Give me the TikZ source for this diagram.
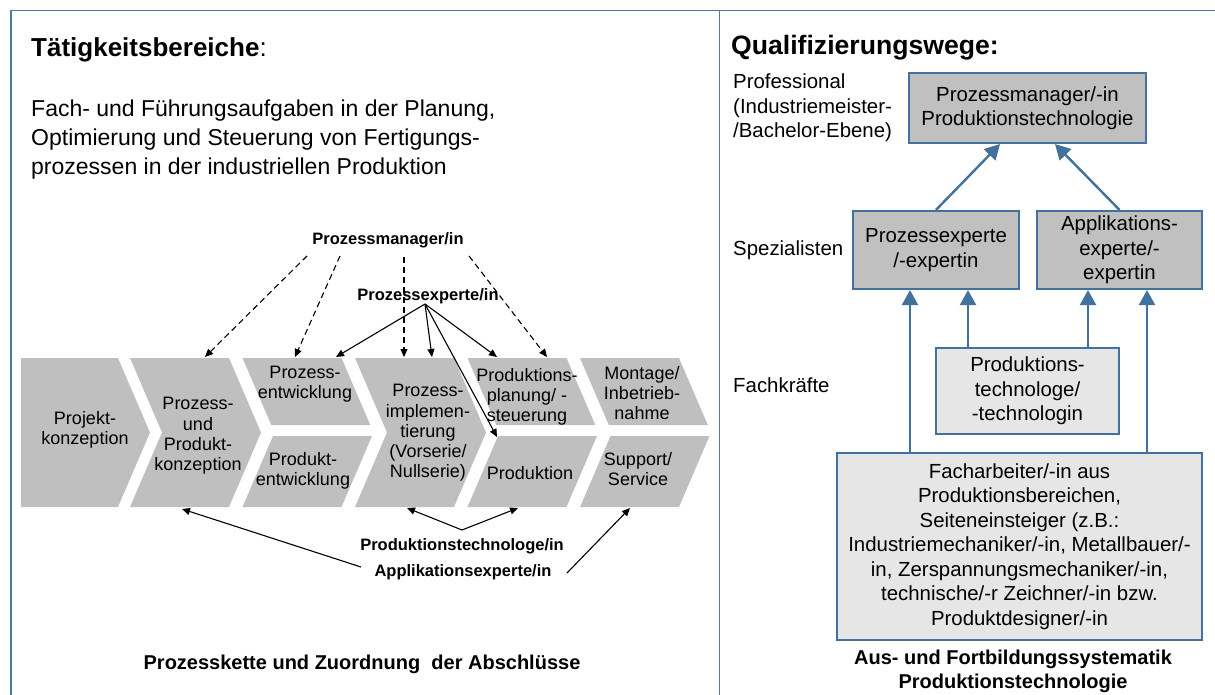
\documentclass[tikz,border=0pt]{standalone}
\usepackage{fontspec}
\setmainfont{Liberation Sans}
\usetikzlibrary{arrows.meta}
\definecolor{frameblue}{HTML}{4F7AA3}
\definecolor{boxblue}{HTML}{41719C}
\definecolor{chevgray}{HTML}{BFBFBF}
\definecolor{darkfill}{HTML}{C0C0C0}
\definecolor{lightfill}{HTML}{E6E6E6}
\newcommand{\fsz}[2]{\fontsize{#1}{#2}\selectfont}
\newcommand{\chevfull}[1]{\fill[chev] (#1,358) -- ({#1+99},358) -- ({#1+131},432.5) -- ({#1+99},507) -- (#1,507) -- ({#1+32},432.5) -- cycle;}
\newcommand{\chevsplit}[1]{\fill[chev] (#1,358) -- ({#1+99},358) -- ({#1+127.8},425) -- ({#1+28.8},425) -- cycle;
 \fill[chev] ({#1+30.5},436) -- ({#1+129.5},436) -- ({#1+99},507) -- (#1,507) -- cycle;}
\begin{document}
\begin{tikzpicture}[x=1pt,y=-1pt,
 chev/.style={fill=chevgray},
 chevtext/.style={align=center,font=\fsz{18}{20.3},inner sep=0},
 lbl/.style={font=\bfseries\fsz{16.5}{20},inner sep=0},
 darr/.style={draw=black,line width=1.1pt,dash pattern=on 6pt off 4pt,-{Triangle[length=8pt,width=7pt]}},
 sarr/.style={draw=black,line width=1.1pt,-{Triangle[length=8pt,width=7pt]}},
 qbox/.style={draw=boxblue,line width=2.2pt,fill=darkfill,align=center,font=\fsz{20.4}{24.5},inner sep=0},
 lbox/.style={qbox,fill=lightfill},
 barrow/.style={draw=boxblue,line width=2.4pt,-{Triangle[length=15pt,width=16pt]}},
 lvl/.style={anchor=west,font=\fsz{20.4}{24.5},inner sep=0,align=left}
]
\useasboundingbox (0,0) rectangle (1215,695);
% frame
\draw[frameblue,line width=1.6pt] (11,695) -- (11,10.5) -- (1215,10.5);
\draw[frameblue,line width=1.6pt] (719.5,10.5) -- (719.5,695);

% ---------- left panel ----------
\node[anchor=base west,font=\bfseries\fsz{26}{30},inner sep=0] (t1) at (31,57) {Tätigkeitsbereiche\textmd{:}};
\node[anchor=north west,align=left,font=\fsz{23}{29},inner sep=0] (body) at (31,100)
 {Fach- und Führungsaufgaben in der Planung,\\Optimierung und Steuerung von Fertigungs-\\prozessen in der industriellen Produktion};

% chevrons
\fill[chev] (21,358) -- (118,358) -- (150,432.5) -- (118,507) -- (21,507) -- cycle;
\chevfull{130}
\chevsplit{242.5}
\chevfull{355}
\chevsplit{467.5}
\chevsplit{580}

\node[chevtext] (c1) at (85,430) {Projekt-\\konzeption};
\node[chevtext] (c2) at (198,436) {Prozess-\\und\\Produkt-\\konzeption};
\node[chevtext] (c3a) at (305,384) {Prozess-\\entwicklung};
\node[chevtext] (c3b) at (303,471) {Produkt-\\entwicklung};
\node[chevtext] (c4) at (428,433) {Prozess-\\implemen-\\tierung\\(Vorserie/\\Nullserie)};
\node[chevtext] (c5a) at (527,397) {Produktions-\\planung/ -\\steuerung};
\node[chevtext] (c5b) at (530,473) {Produktion};
\node[chevtext] (c6a) at (642,393) {Montage/\\Inbetrieb-\\nahme};
\node[chevtext] (c6b) at (638,469) {Support/\\Service};

% labels
\node[lbl] (pmgr) at (388,240) {Prozessmanager/in};
\node[lbl] (pexp) at (428,296) {Prozessexperte/in};
\node[lbl] (ptech) at (462,546) {Produktionstechnologe/in};
\node[lbl] (aexp) at (463,572) {Applikationsexperte/in};
\node[font=\bfseries\fsz{20}{24},inner sep=0] (cap1) at (362,664) {Prozesskette und Zuordnung\ \ der Abschlüsse};

% arrow coordinates
\coordinate (m1) at (307,256); \coordinate (m2) at (340,256);
\coordinate (m3) at (404,257); \coordinate (m4) at (469,256);
\coordinate (e1) at (205,357); \coordinate (e2) at (295,357);
\coordinate (e3) at (404,357); \coordinate (e4) at (547,357);
\draw[darr] (m1) -- (e1);
\draw[darr] (m2) -- (e2);
\draw[darr] (m3) -- (e3);
\draw[darr] (m4) -- (e4);

\coordinate (px) at (425,304);
\coordinate (f1) at (336,357); \coordinate (f2) at (432,357);
\coordinate (f3) at (497,357); \coordinate (f4) at (497,437);
\draw[sarr] (px) -- (f1);
\draw[sarr] (px) -- (f2);
\draw[sarr] (px) -- (f3);
\draw[sarr] (px) -- (f4);

\coordinate (v) at (462,530);
\coordinate (g1) at (407,508); \coordinate (g2) at (518,508);
\draw[sarr] (v) -- (g1);
\draw[sarr] (v) -- (g2);
\coordinate (al) at (361,567); \coordinate (ar) at (567,573);
\coordinate (h1) at (182,509); \coordinate (h2) at (630,508);
\draw[sarr] (al) -- (h1);
\draw[sarr] (ar) -- (h2);

% ---------- right panel ----------
\node[anchor=base west,font=\bfseries\fsz{26.6}{30},inner sep=0] (t2) at (731,55) {Qualifizierungswege:};
\node[lvl,anchor=north west] (lp) at (733,74) {Professional\\(Industriemeister-\\/Bachelor-Ebene)};
\node[lvl] (ls) at (733,250) {Spezialisten};
\node[lvl] (lf) at (733,385) {Fachkräfte};

\node[qbox,minimum width=237pt,minimum height=70pt] (pm) at (1027.5,108) {Prozessmanager/-in\\Produktionstechnologie};
\node[qbox,minimum width=166pt,minimum height=78pt] (pe) at (936,250) {Prozessexperte\\/-expertin};
\node[qbox,minimum width=165pt,minimum height=78pt] (ae) at (1119.5,250) {Applikations-\\experte/-\\expertin};
\node[lbox,minimum width=183pt,minimum height=86pt] (pt) at (1027.5,391) {Produktions-\\technologe/\\-technologin};
\node[lbox,minimum width=365pt,minimum height=187pt] (fa) at (1019.5,546.5)
 {Facharbeiter/-in aus\\Produktionsbereichen,\\Seiteneinsteiger (z.B.:\\Industriemechaniker/-in, Metallbauer/-\\in, Zerspannungsmechaniker/-in,\\technische/-r Zeichner/-in bzw.\\Produktdesigner/-in};
\node[font=\bfseries\fsz{20}{24},align=center,inner sep=0] (cap2) at (1013,671) {Aus- und Fortbildungssystematik\\Produktionstechnologie};

\coordinate (xa) at (1000,0); \coordinate (xb) at (1055,0);
\draw[barrow] (pe.north) -- (xa |- pm.south);
\draw[barrow] (ae.north) -- (xb |- pm.south);
\coordinate (x1) at (910,0); \coordinate (x2) at (968,0);
\coordinate (x3) at (1088,0); \coordinate (x4) at (1147,0);
\draw[barrow] (x1 |- fa.north) -- (x1 |- pe.south);
\draw[barrow] (x2 |- pt.north) -- (x2 |- pe.south);
\draw[barrow] (x3 |- pt.north) -- (x3 |- ae.south);
\draw[barrow] (x4 |- fa.north) -- (x4 |- ae.south);
\end{tikzpicture}
\end{document}
